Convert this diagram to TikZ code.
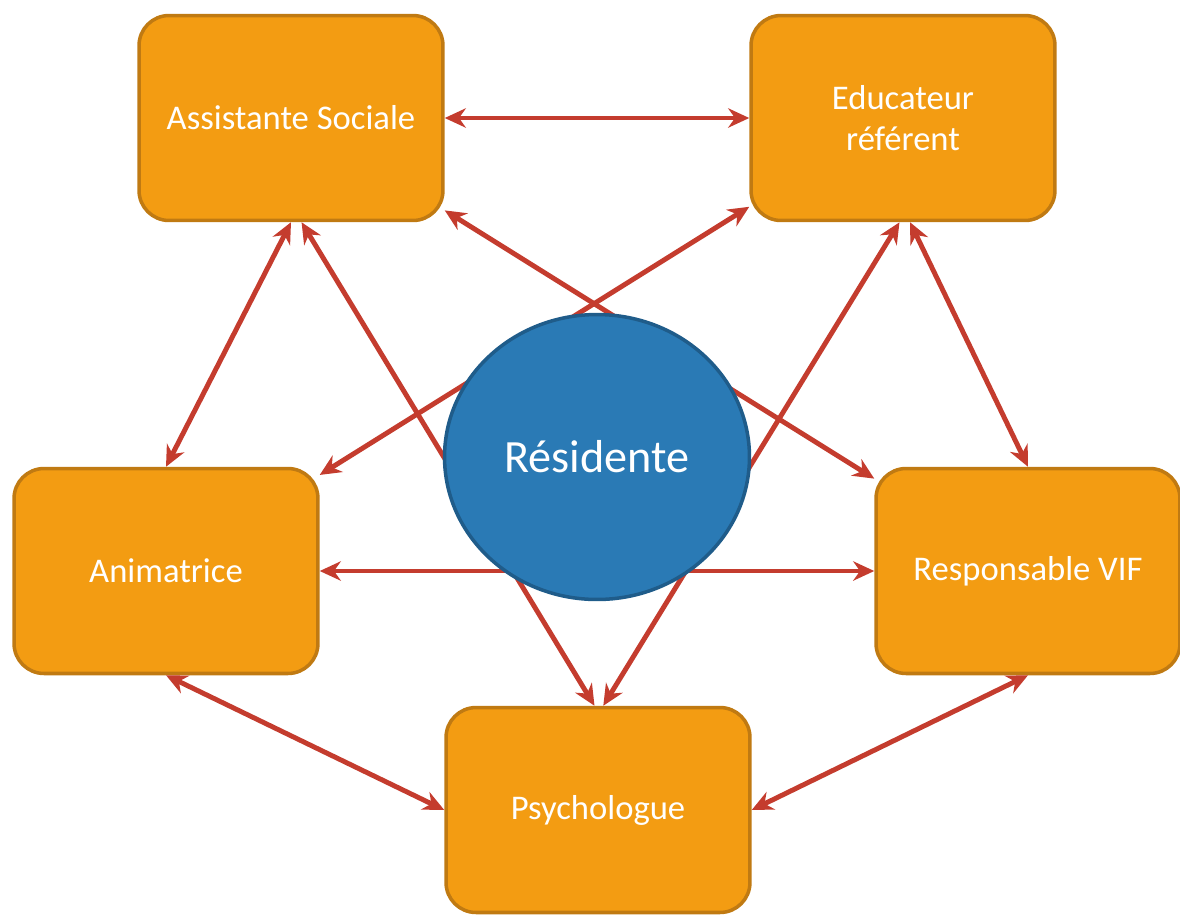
\documentclass[tikz,border=0pt]{standalone}
\usepackage{fontspec}
\setmainfont{Carlito}
\usetikzlibrary{arrows.meta,shapes.geometric}

\definecolor{boxfill}{HTML}{F39C12}
\definecolor{boxline}{HTML}{C07A12}
\definecolor{linkred}{HTML}{C43C2E}
\definecolor{resfill}{HTML}{2A7AB5}
\definecolor{resline}{HTML}{1F5C8A}

\tikzset{
  role/.style={draw=boxline,fill=boxfill,line width=2pt,rounded corners=0.6cm,
    minimum width=6.08cm,minimum height=4.1cm,align=center,text=white,
    font=\fontsize{19.7}{23}\selectfont},
  link/.style={linkred,line width=2.8pt,{Stealth[length=12pt,width=11pt]}-{Stealth[length=12pt,width=11pt]}}
}

\begin{document}
\begin{tikzpicture}[x=0.02cm,y=-0.02cm]
  \useasboundingbox (0,0) rectangle (1180,914);

  \node[role] (as) at (291,118) {Assistante Sociale};
  \node[role] (ed) at (903,118) {Educateur\\référent};
  \node[role] (an) at (166,571) {Animatrice};
  \node[role] (rv) at (1028,571) {Responsable VIF};
  \node[role] (ps) at (598,810) {Psychologue};

  \draw[link] (as.east) -- (ed.west);
  \draw[link] (as.south) -- (an.north);
  \draw[link] ([xshift=6pt]as.south) -- ([xshift=-2pt]ps.north);
  \draw[link] (as.-31) -- (rv.149);
  \draw[link] (ed.210) -- (an.32);
  \draw[link] ([xshift=-2pt]ed.south) -- ([xshift=3pt]ps.north);
  \draw[link] ([xshift=4pt]ed.south) -- (rv.north);
  \draw[link] (an.east) -- (rv.west);
  \draw[link] (an.south) -- (ps.west);
  \draw[link] (rv.south) -- (ps.east);

  \node[ellipse,draw=resline,fill=resfill,line width=2pt,minimum width=6.1cm,
    minimum height=5.7cm,text=white,font=\fontsize{26.3}{30}\selectfont]
    (res) at (597,457) {Résidente};
\end{tikzpicture}
\end{document}
